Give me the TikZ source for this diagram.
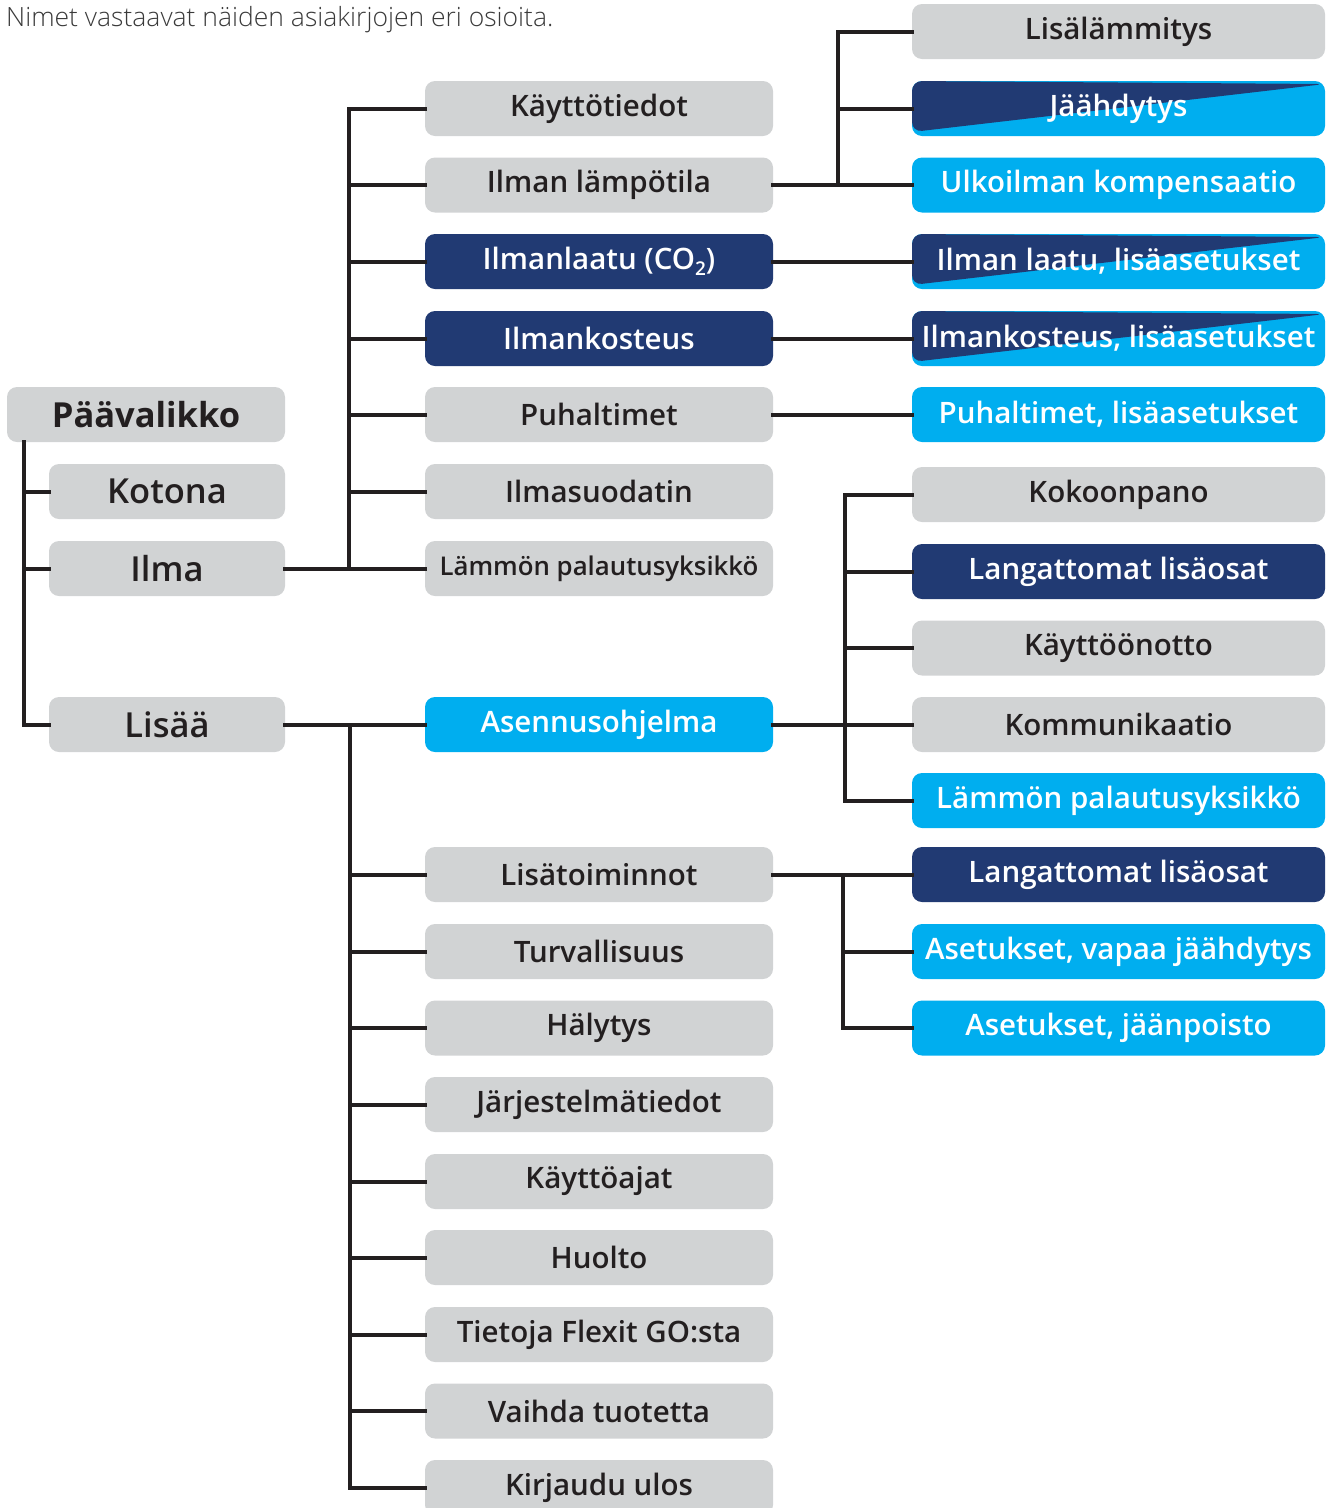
\documentclass[tikz,border=0pt]{standalone}
\usepackage{fontspec}
\setmainfont{Open Sans}
\IfFontExistsTF{Open Sans SemiBold}{\newfontfamily\semi{Open Sans SemiBold}}{%
 \IfFontExistsTF{Open Sans Semibold}{\newfontfamily\semi{Open Sans Semibold}}{\newfontfamily\semi{Open Sans}}}
\IfFontExistsTF{Open Sans Light}{\newfontfamily\lite{Open Sans Light}}{\newfontfamily\lite{Open Sans}}
\newfontfamily\heavy{Open Sans Bold}
\definecolor{boxgray}{HTML}{D1D3D4}
\definecolor{navy}{HTML}{213A73}
\definecolor{cyanb}{HTML}{00AEEF}
\definecolor{ink}{HTML}{231F20}
\definecolor{notegray}{HTML}{3A3A3A}
\tikzset{
  base/.style={rounded corners=10pt, minimum height=55pt, inner sep=0pt, font=\semi\fontsize{29.5}{34}\selectfont},
  gbox/.style={base, fill=boxgray, text=ink},
  nbox/.style={base, fill=navy, text=white},
  cbox/.style={base, fill=cyanb, text=white},
  sbox/.style={base, fill=cyanb, text=white, path picture={
      \fill[navy] ([yshift=4pt]path picture bounding box.south west) -- (path picture bounding box.north west) -- ([yshift=-3pt]path picture bounding box.north east) -- cycle;}},
  c1/.style={minimum width=236pt, font=\semi\fontsize{34.5}{40}\selectfont},
  c2/.style={minimum width=348pt},
  c3/.style={minimum width=413pt},
  conn/.style={draw=ink, line width=4pt, line cap=rect},
}
\begin{document}
\begin{tikzpicture}[x=1pt,y=-1pt]
\useasboundingbox (0,0) rectangle (1326,1508);
\node[anchor=west, text=notegray, font=\lite\fontsize{26.5}{30}\selectfont, inner sep=0pt] (note) at (6,19.5) {Nimet vastaavat näiden asiakirjojen eri osioita.};

% column 1
\node[gbox, minimum width=278pt, font=\heavy\fontsize{34.5}{40}\selectfont] (paa) at (146,414.5) {Päävalikko};
\node[gbox, c1] (kotona) at (167,491.5) {Kotona};
\node[gbox, c1] (ilma) at (167,568.5) {Ilma};
\node[gbox, c1] (lisaa) at (167,724.5) {Lisää};

% column 2, Ilma group
\node[gbox, c2] (kt) at (599,108.5) {Käyttötiedot};
\node[gbox, c2] (il) at (599,185) {Ilman lämpötila};
\node[nbox, c2] (iq) at (599,261.5) {Ilmanlaatu (CO\raisebox{-0.35ex}{\fontsize{19}{20}\selectfont 2})};
\node[nbox, c2] (ik) at (599,338.5) {Ilmankosteus};
\node[gbox, c2] (pu) at (599,414.5) {Puhaltimet};
\node[gbox, c2] (is) at (599,491.5) {Ilmasuodatin};
\node[gbox, c2, font=\semi\fontsize{25.8}{30}\selectfont] (lp) at (599,568.5) {Lämmön palautusyksikkö};

% column 2, Lisää group
\node[cbox, c2] (ao) at (599,724.5) {Asennusohjelma};
\node[gbox, c2] (lt) at (599,874.5) {Lisätoiminnot};
\node[gbox, c2] (tu) at (599,951.5) {Turvallisuus};
\node[gbox, c2] (ha) at (599,1028) {Hälytys};
\node[gbox, c2] (jt) at (599,1104.5) {Järjestelmätiedot};
\node[gbox, c2] (ka) at (599,1181.5) {Käyttöajat};
\node[gbox, c2] (hu) at (599,1257.5) {Huolto};
\node[gbox, c2] (tf) at (599,1334.5) {Tietoja Flexit GO:sta};
\node[gbox, c2] (vt) at (599,1411) {Vaihda tuotetta};
\node[gbox, c2] (ku) at (599,1487.5) {Kirjaudu ulos};

% column 3
\node[gbox, c3] (ll) at (1118.5,31.5) {Lisälämmitys};
\node[sbox, c3] (ja) at (1118.5,108.5) {Jäähdytys};
\node[cbox, c3] (uk) at (1118.5,185) {Ulkoilman kompensaatio};
\node[sbox, c3] (ila) at (1118.5,261.5) {Ilman laatu, lisäasetukset};
\node[sbox, c3] (ikl) at (1118.5,338.5) {Ilmankosteus, lisäasetukset};
\node[cbox, c3] (pul) at (1118.5,414.5) {Puhaltimet, lisäasetukset};
\node[gbox, c3] (ko) at (1118.5,494.5) {Kokoonpano};
\node[nbox, c3] (la) at (1118.5,571.5) {Langattomat lisäosat};
\node[gbox, c3] (kn) at (1118.5,648) {Käyttöönotto};
\node[gbox, c3] (km) at (1118.5,724.5) {Kommunikaatio};
\node[cbox, c3] (lpy) at (1118.5,800.5) {Lämmön palautusyksikkö};
\node[nbox, c3] (la2) at (1118.5,874.5) {Langattomat lisäosat};
\node[cbox, c3] (av) at (1118.5,951.5) {Asetukset, vapaa jäähdytys};
\node[cbox, c3] (aj) at (1118.5,1028) {Asetukset, jäänpoisto};

% bus coordinates
\coordinate (b0) at (24,0);
\coordinate (b1) at (349,0);
\coordinate (b2) at (350,0);
\coordinate (b3) at (838,0);
\coordinate (b4) at (845,0);
\coordinate (b5) at (843,0);

% connectors column 1
\draw[conn] (b0 |- paa.south) -- (b0 |- lisaa);
\foreach \n in {kotona, ilma, lisaa} \draw[conn] (b0 |- \n) -- (\n.west);

% Ilma group
\draw[conn] (ilma.east) -- (lp.west);
\draw[conn] (b1 |- kt) -- (b1 |- lp);
\foreach \n in {kt, il, iq, ik, pu, is} \draw[conn] (b1 |- \n) -- (\n.west);

% Lisää group
\draw[conn] (lisaa.east) -- (ao.west);
\draw[conn] (b2 |- ao) -- (b2 |- ku);
\foreach \n in {lt, tu, ha, jt, ka, hu, tf, vt, ku} \draw[conn] (b2 |- \n) -- (\n.west);

% column 3 links
\draw[conn] (il.east) -- (uk.west);
\draw[conn] (b3 |- ll) -- (b3 |- uk);
\foreach \n in {ll, ja} \draw[conn] (b3 |- \n) -- (\n.west);
\draw[conn] (iq.east) -- (ila.west);
\draw[conn] (ik.east) -- (ikl.west);
\draw[conn] (pu.east) -- (pul.west);

\draw[conn] (ao.east) -- (km.west);
\draw[conn] (b4 |- ko) -- (b4 |- lpy);
\foreach \n in {ko, la, kn, lpy} \draw[conn] (b4 |- \n) -- (\n.west);

\draw[conn] (lt.east) -- (la2.west);
\draw[conn] (b5 |- la2) -- (b5 |- aj);
\foreach \n in {av, aj} \draw[conn] (b5 |- \n) -- (\n.west);
\end{tikzpicture}
\end{document}
